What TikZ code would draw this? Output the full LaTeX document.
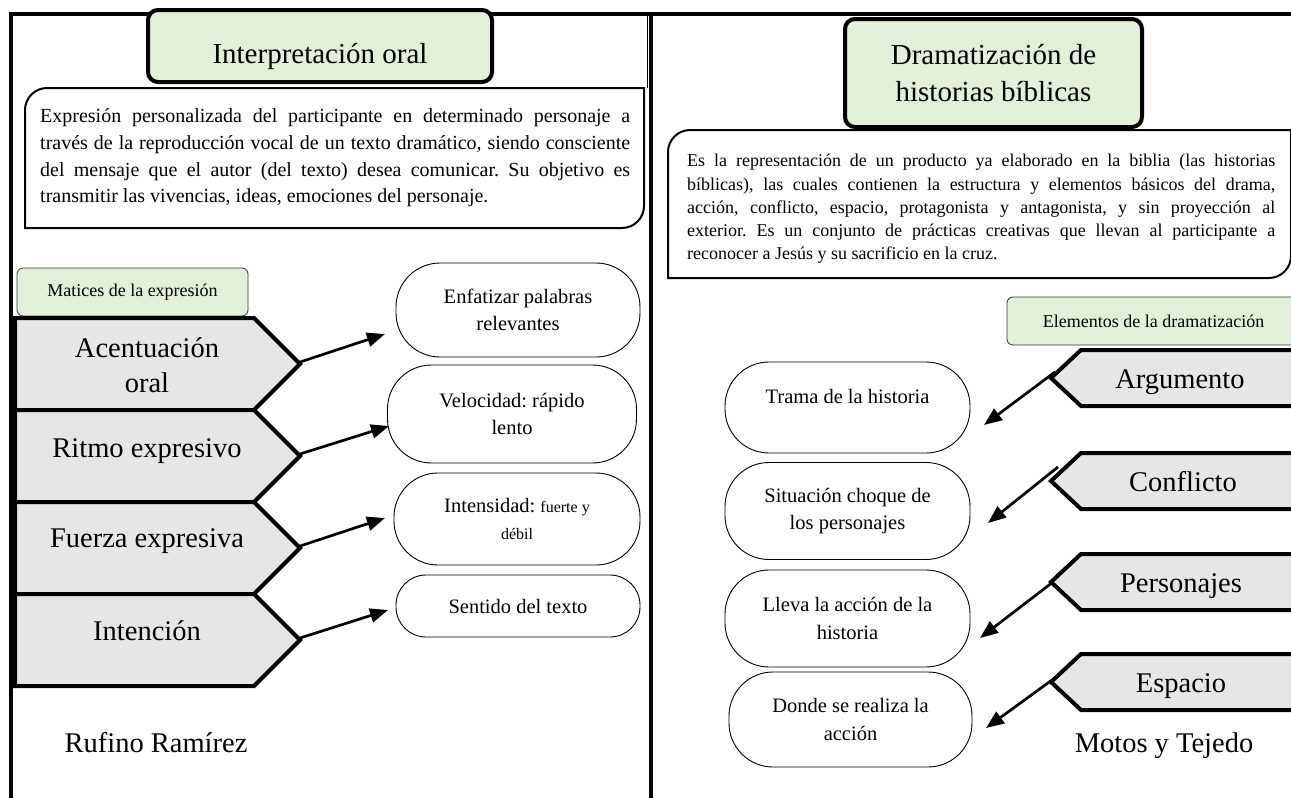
\documentclass[tikz,border=0pt]{standalone}
\usepackage{fontspec}
\setmainfont{Liberation Serif}
\usetikzlibrary{arrows.meta}
\definecolor{tabgreen}{HTML}{E2EFD9}
\definecolor{chevgray}{HTML}{E7E6E6}
\newcommand\jline[2]{\makebox[#1][s]{#2}}
\frenchspacing
\begin{document}
\begin{tikzpicture}[x=1pt,y=-1pt,
  frame/.style={line width=4.5pt},
  titlebox/.style={draw, line width=4pt, fill=tabgreen, rounded corners=10pt, inner sep=0pt},
  descbox/.style={draw, line width=2pt, fill=white},
  tabbox/.style={draw=black!80, line width=0.8pt, fill=tabgreen, rounded corners=6pt, inner sep=0pt, font=\fontsize{18}{22}\selectfont},
  chev/.style={draw, line width=4pt, fill=chevgray, line join=miter},
  oval/.style={draw, line width=0.9pt, rounded corners=44pt, inner sep=0pt, align=center, font=\fontsize{20.5}{27.5}\selectfont},
  arr/.style={line width=2.7pt, -{Triangle[length=18pt,width=14pt]}},
  big/.style={font=\fontsize{28.5}{35}\selectfont, inner sep=0pt, align=center},
  plain/.style={inner sep=0pt, align=left}
]
\clip (0,0) rectangle (1291,798);
\fill[white] (0,0) rectangle (1291,798);

% frame
\draw[frame] (11,800) -- (11,14) -- (1295,14);
\draw[frame] (651,14) -- (651,800);
\draw[line width=0.8pt] (647,14) -- (647,88);

% ---------------- left panel ----------------
\node[titlebox, minimum width=344pt, minimum height=72pt] (lTitle) at (320,46) {};
\node[big, anchor=base, font=\fontsize{29}{35}\selectfont] (lTitleTxt) at (320,63) {Interpretación oral};

\draw[descbox] (25,228) -- (25,110) .. controls (25,97.9) and (34.9,88) .. (47,88) -- (644,88) -- (644,206) .. controls (644,218.1) and (634.1,228) .. (622,228) -- cycle;
\node[plain, anchor=west, font=\fontsize{20}{26.7}\selectfont] (lDesc) at (40,158) {%
\jline{590pt}{Expresión personalizada del participante en determinado personaje a}\\
\jline{590pt}{través de la reproducción vocal de un texto dramático, siendo consciente}\\
\jline{590pt}{del mensaje que el autor (del texto) desea comunicar. Su objetivo es}\\
transmitir las vivencias, ideas, emociones del personaje.};

\node[tabbox, minimum width=231pt, minimum height=48pt] (matTab) at (132.5,292) {Matices de la expresión};

\draw[chev] (15,318) -- (254,318) -- (300,364) -- (254,410) -- (15,410) -- cycle;
\draw[chev] (15,410) -- (254,410) -- (300,456) -- (254,502) -- (15,502) -- cycle;
\draw[chev] (15,502) -- (254,502) -- (300,548) -- (254,594) -- (15,594) -- cycle;
\draw[chev] (15,594) -- (254,594) -- (300,640) -- (254,686) -- (15,686) -- cycle;
\node[big] (acTxt) at (147,365) {Acentuación\\oral};
\node[big, anchor=base] (riTxt) at (147,457) {Ritmo expresivo};
\node[big, anchor=base] (fuTxt) at (147,547) {Fuerza expresiva};
\node[big, anchor=base] (inTxt) at (147,640) {Intención};
\coordinate (acTip) at (300,362);
\coordinate (riTip) at (300,454);
\coordinate (fuTip) at (300,546);
\coordinate (inTip) at (300,638);

\node[oval, minimum width=244pt, minimum height=94pt] (enf) at (518,310) {Enfatizar palabras\\relevantes};
\node[oval, minimum width=249pt, minimum height=98pt] (vel) at (512,414) {Velocidad: rápido\\lento};
\node[oval, minimum width=246pt, minimum height=92pt] (int) at (517,519) {Intensidad: {\fontsize{16}{20}\selectfont fuerte y}\\{\fontsize{16}{20}\selectfont débil}};
\node[oval, rounded corners=30pt, minimum width=244pt, minimum height=62pt] (sen) at (518,606) {Sentido del texto};

\coordinate (enfIn) at (385,334);
\coordinate (velIn) at (389,426);
\coordinate (intIn) at (385,518);
\coordinate (senIn) at (388,610);
\draw[arr] (acTip) -- (enfIn);
\draw[arr] (riTip) -- (velIn);
\draw[arr] (fuTip) -- (intIn);
\draw[arr] (inTip) -- (senIn);

\node[big, anchor=base] (rufino) at (156,752) {Rufino Ramírez};

% ---------------- right panel ----------------
\node[titlebox, minimum width=297pt, minimum height=108pt] (rTitle) at (993.5,73) {};
\node[big, font=\fontsize{29}{37}\selectfont] (rTitleTxt) at (993.5,73) {Dramatización de\\historias bíblicas};

\draw[descbox] (668,278) -- (668,152) .. controls (668,139.9) and (677.9,130) .. (690,130) -- (1291,130) -- (1291,256) .. controls (1291,268.1) and (1281.1,278) .. (1269,278) -- cycle;
\node[plain, anchor=west, font=\fontsize{18}{23.3}\selectfont] (rDesc) at (687,209) {%
\jline{588pt}{Es la representación de un producto ya elaborado en la biblia (las historias}\\
\jline{588pt}{bíblicas), las cuales contienen la estructura y elementos básicos del drama,}\\
\jline{588pt}{acción, conflicto, espacio, protagonista y antagonista, y sin proyección al}\\
\jline{588pt}{exterior. Es un conjunto de prácticas creativas que llevan al participante a}\\
reconocer a Jesús y su sacrificio en la cruz.};

\node[tabbox, minimum width=293pt, minimum height=48pt] (eleTab) at (1153.5,321) {Elementos de la dramatización};

\draw[chev] (1300,350) -- (1081,350) -- (1051,378) -- (1081,406) -- (1300,406) -- cycle;
\draw[chev] (1300,453) -- (1081,453) -- (1051,481) -- (1081,509) -- (1300,509) -- cycle;
\draw[chev] (1300,554) -- (1081,554) -- (1051,582) -- (1081,610) -- (1300,610) -- cycle;
\draw[chev] (1300,654) -- (1081,654) -- (1051,682) -- (1081,710) -- (1300,710) -- cycle;
\node[big, anchor=base] (argTxt) at (1180,388) {Argumento};
\node[big, anchor=base] (conTxt) at (1183,491) {Conflicto};
\node[big, anchor=base] (perTxt) at (1181,592) {Personajes};
\node[big, anchor=base] (espTxt) at (1181,692) {Espacio};
\coordinate (argTip) at (1055,372);
\coordinate (conTip) at (1058,467);
\coordinate (perTip) at (1053,582);
\coordinate (espTip) at (1052,680);

\node[oval, minimum width=245pt, minimum height=91pt] (tra) at (847.5,407.5) {\raisebox{4pt}[0pt][0pt]{Trama de la historia}};
\node[oval, minimum width=245pt, minimum height=97pt] (sit) at (847.5,511) {Situación choque de\\los personajes};
\node[oval, minimum width=245pt, minimum height=97pt] (lle) at (847.5,618.5) {Lleva la acción de la\\historia};
\node[oval, minimum width=243pt, minimum height=95pt] (don) at (850.5,719.5) {Donde se realiza la\\acción};

\coordinate (traIn) at (984,425);
\coordinate (sitIn) at (988,523);
\coordinate (lleIn) at (980,638);
\coordinate (donIn) at (986,728);
\draw[arr] (argTip) -- (traIn);
\draw[arr] (conTip) -- (sitIn);
\draw[arr] (perTip) -- (lleIn);
\draw[arr] (espTip) -- (donIn);

\node[big, anchor=base] (motos) at (1164,752) {Motos y Tejedo};
\end{tikzpicture}
\end{document}
